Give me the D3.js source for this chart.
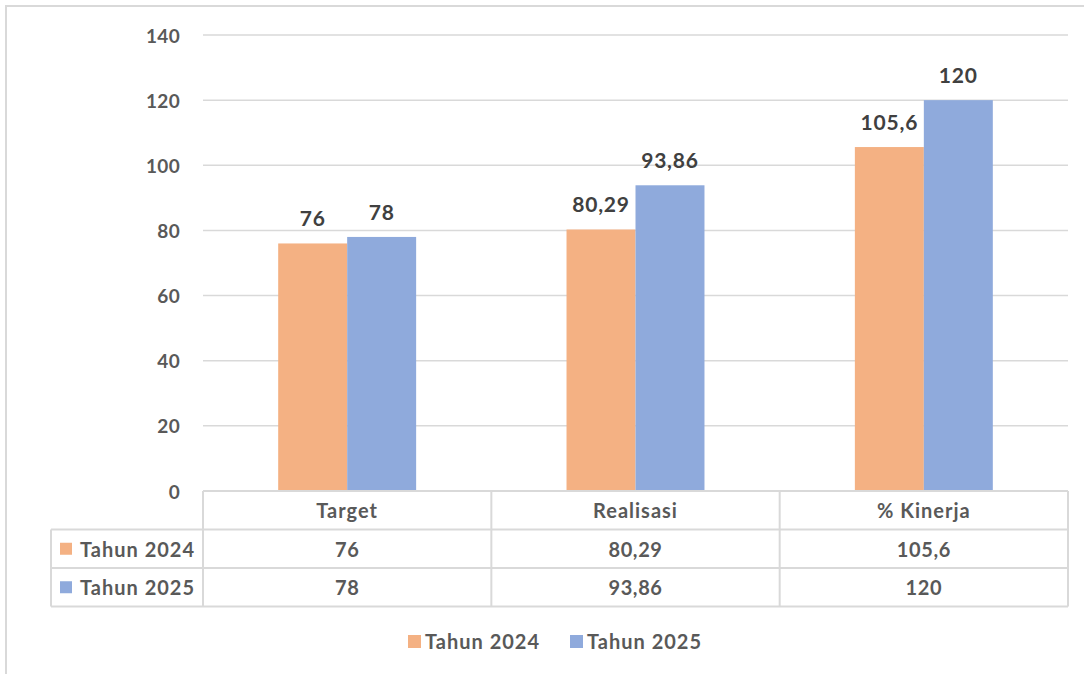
<!DOCTYPE html>
<html>
<head>
<meta charset="utf-8">
<script src="https://cdn.jsdelivr.net/npm/d3@7/dist/d3.min.js"></script>
<style>
  html, body { margin: 0; padding: 0; background: #fff; }
  svg { display: block; font-family: Lato, "Open Sans", sans-serif; }
</style>
</head>
<body>
<div id="chart"></div>
<script>
// Target vs realisasi, Tahun 2024 dan 2025
const categories = ['Target', 'Realisasi', '% Kinerja'];
const seriesNames = ['Tahun 2024', 'Tahun 2025'];
const values2024 = [76, 80.29, 105.6];
const values2025 = [78, 93.86, 120];
const labels2024 = ['76', '80,29', '105,6'];
const labels2025 = ['78', '93,86', '120'];
const yTicks = [0, 20, 40, 60, 80, 100, 120, 140];
const colors = ['#F4B183', '#8FAADC'];

const W = 1084, H = 674;
const plotLeft = 203, plotRight = 1068, plotTop = 35, plotBottom = 491;
const rowH = 38.5;
const tableLeft = 51;
const textColor = '#595959';

const svg = d3.select('#chart').append('svg')
  .attr('width', W).attr('height', H);

// outer frame
svg.append('rect')
  .attr('x', 6).attr('y', 6)
  .attr('width', W + 10).attr('height', H + 10)
  .attr('fill', 'none').attr('stroke', '#d9d9d9').attr('stroke-width', 2);

const y = d3.scaleLinear().domain([0, 140]).range([plotBottom, plotTop]);
const x0 = d3.scaleBand().domain(categories).range([plotLeft, plotRight]).paddingInner(0).paddingOuter(0);
const x1 = d3.scaleBand().domain(seriesNames).range([0, x0.bandwidth()]).paddingInner(0).paddingOuter(1.09);

// gridlines
svg.append('g').selectAll('line')
  .data(yTicks)
  .join('line')
  .attr('x1', plotLeft).attr('x2', plotRight)
  .attr('y1', d => y(d)).attr('y2', d => y(d))
  .attr('stroke', '#d9d9d9').attr('stroke-width', 1.5);

// y tick labels
svg.append('g').selectAll('text')
  .data(yTicks)
  .join('text')
  .attr('x', 180).attr('y', d => y(d))
  .attr('text-anchor', 'end').attr('dominant-baseline', 'central')
  .attr('font-size', 19).attr('font-weight', 700).attr('fill', textColor)
  .attr('letter-spacing', 0.3)
  .text(d => d);

const series = [
  {name: seriesNames[0], values: values2024, labels: labels2024, color: colors[0]},
  {name: seriesNames[1], values: values2025, labels: labels2025, color: colors[1]}
];

// bars
series.forEach(s => {
  const g = svg.append('g');
  g.selectAll('rect')
    .data(categories)
    .join('rect')
    .attr('x', (c) => x0(c) + x1(s.name))
    .attr('y', (c, i) => y(s.values[i]))
    .attr('width', x1.bandwidth())
    .attr('height', (c, i) => plotBottom - y(s.values[i]))
    .attr('fill', s.color);
  g.selectAll('text')
    .data(categories)
    .join('text')
    .attr('x', (c) => x0(c) + x1(s.name) + x1.bandwidth() / 2)
    .attr('y', (c, i) => y(s.values[i]) - 17)
    .attr('text-anchor', 'middle')
    .attr('font-size', 21).attr('font-weight', 700).attr('fill', '#404040')
    .attr('letter-spacing', 0.8)
    .text((c, i) => s.labels[i]);
});

// data table
const tbl = svg.append('g').attr('stroke', '#d9d9d9').attr('stroke-width', 2).attr('fill', 'none');
const rowYs = [plotBottom, plotBottom + rowH, plotBottom + 2 * rowH, plotBottom + 3 * rowH];
// horizontal lines
tbl.append('line').attr('x1', plotLeft).attr('x2', plotRight).attr('y1', rowYs[0]).attr('y2', rowYs[0]);
[1, 2, 3].forEach(i => {
  tbl.append('line').attr('x1', tableLeft).attr('x2', plotRight).attr('y1', rowYs[i]).attr('y2', rowYs[i]);
});
// vertical lines
tbl.append('line').attr('x1', tableLeft).attr('x2', tableLeft).attr('y1', rowYs[1]).attr('y2', rowYs[3]);
categories.forEach(c => {
  tbl.append('line').attr('x1', x0(c)).attr('x2', x0(c)).attr('y1', rowYs[0]).attr('y2', rowYs[3]);
});
tbl.append('line').attr('x1', plotRight).attr('x2', plotRight).attr('y1', rowYs[0]).attr('y2', rowYs[3]);

// header labels
svg.append('g').selectAll('text')
  .data(categories)
  .join('text')
  .attr('x', c => x0(c) + x0.bandwidth() / 2)
  .attr('y', rowYs[0] + rowH / 2)
  .attr('text-anchor', 'middle').attr('dominant-baseline', 'central')
  .attr('font-size', 20).attr('font-weight', 700).attr('fill', textColor)
  .attr('letter-spacing', 1)
  .text(c => c);

// rows
series.forEach((s, r) => {
  const cy = rowYs[r + 1] + rowH / 2;
  svg.append('rect')
    .attr('x', 60).attr('y', cy - 6).attr('width', 12).attr('height', 12)
    .attr('fill', s.color);
  svg.append('text')
    .attr('x', 80).attr('y', cy)
    .attr('dominant-baseline', 'central')
    .attr('font-size', 20).attr('font-weight', 700).attr('fill', textColor)
    .attr('letter-spacing', 1)
    .text(s.name);
  svg.append('g').selectAll('text')
    .data(categories)
    .join('text')
    .attr('x', c => x0(c) + x0.bandwidth() / 2)
    .attr('y', cy)
    .attr('text-anchor', 'middle').attr('dominant-baseline', 'central')
    .attr('font-size', 20).attr('font-weight', 700).attr('fill', textColor)
    .attr('letter-spacing', 0.6)
    .text((c, i) => s.labels[i]);
});

// legend
const legendX = [408, 570];
const legendY = 641;
series.forEach((s, i) => {
  svg.append('rect')
    .attr('x', legendX[i]).attr('y', legendY - 6).attr('width', 13).attr('height', 13)
    .attr('fill', s.color);
  svg.append('text')
    .attr('x', legendX[i] + 17).attr('y', legendY)
    .attr('dominant-baseline', 'central')
    .attr('font-size', 20).attr('font-weight', 700).attr('fill', textColor)
    .attr('letter-spacing', 1)
    .text(s.name);
});
</script>
</body>
</html>
